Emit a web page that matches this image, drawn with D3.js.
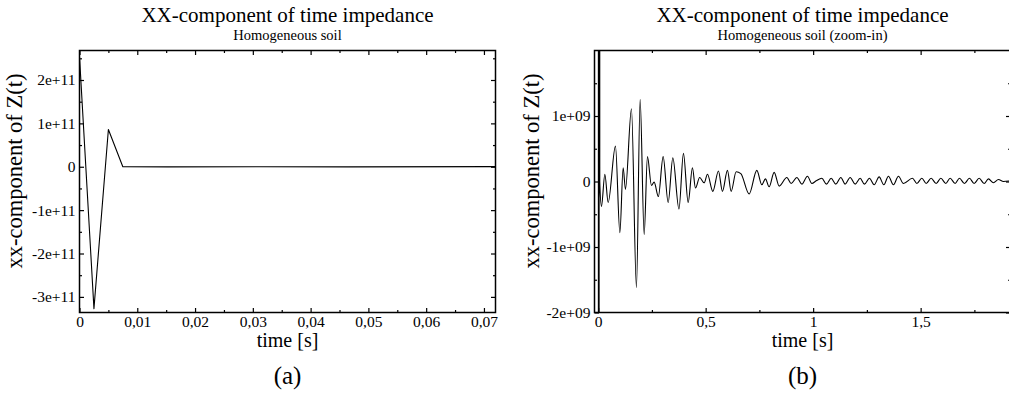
<!DOCTYPE html>
<html>
<head>
<meta charset="utf-8">
<script src="https://cdn.jsdelivr.net/npm/d3@7"></script>
<style>
	body { margin: 0; background: #fff; }
	svg { display: block; }
	.domain { display: none; }
	.tick line { stroke: #000; stroke-width: 1.2; }
</style>
</head>
<body>
<svg id="chart" width="1009" height="394"></svg>
<script>
// impulse at the start of the record (values in Z units)
const impulseTime = [0, 0.0025, 0.005, 0.0075];
const impulseValue = [2.54e11, -3.27e11, 0.86e11, 0];

// oscillating tail (b) peak by peak (values in 1e9)
const waveUnit = 1e9;
const waveTime = [
	0.0153, 0.0312, 0.0465, 0.0805, 0.1010, 0.1163, 0.1270, 0.1549, 0.1781, 0.1953,
	0.2140, 0.2293, 0.2479, 0.2605, 0.2800, 0.3023, 0.3256, 0.3474, 0.3758, 0.3967,
	0.4186, 0.4386, 0.4526, 0.4721, 0.4930, 0.5084, 0.5335, 0.5595, 0.5781, 0.6014,
	0.6186, 0.6419, 0.6637, 0.7023, 0.7381, 0.7614, 0.7781, 0.7953, 0.8186, 0.8419,
	0.8777, 0.8977, 0.9242, 0.9474, 0.9735, 0.9940, 1.0140, 1.0405, 1.0619, 1.0837,
	1.1056, 1.1288, 1.1488, 1.1721, 1.1953, 1.2186, 1.2386, 1.2619, 1.2837, 1.3070,
	1.3288, 1.3502, 1.3735, 1.3967, 1.4200, 1.4619, 1.4823, 1.5056, 1.5256, 1.5488,
	1.5721, 1.5940, 1.6172, 1.6372, 1.6605, 1.6805, 1.7037, 1.7270, 1.7488, 1.7721,
	1.7953, 1.8153, 1.8386, 1.8619, 1.8851, 1.9170
];
const waveValue = [
	-0.38, 0.11, -0.32, 0.54, -0.78, 0.21, -0.12, 1.11, -1.62, 1.25,
	-0.81, 0.38, -0.06, -0.01, -0.23, 0.38, -0.32, 0.36, -0.42, 0.43,
	-0.32, 0.21, -0.10, 0.06, -0.02, 0.11, -0.15, 0.16, -0.15, 0.17,
	-0.15, 0.15, 0.12, -0.19, 0.17, -0.05, 0.04, -0.08, 0.14, -0.07,
	0.06, -0.03, 0.06, -0.04, 0.08, -0.03, 0.01, 0.05, -0.04, 0.05,
	-0.04, 0.06, -0.04, 0.06, -0.04, 0.05, -0.04, 0.05, -0.05, 0.07,
	-0.05, 0.08, -0.05, 0.08, -0.03, 0.05, -0.03, 0.05, -0.03, 0.05,
	-0.03, 0.05, -0.03, 0.05, -0.03, 0.05, -0.03, 0.05, -0.03, 0.05,
	-0.03, 0.04, -0.02, 0.03, 0.00, 0.01
];

// ticks
const xTicksA = [0, 0.01, 0.02, 0.03, 0.04, 0.05, 0.06, 0.07];
const xMinorA = [0.005, 0.015, 0.025, 0.035, 0.045, 0.055, 0.065];
const yTicksA = [-3e11, -2e11, -1e11, 0, 1e11, 2e11];
const yMinorA = [-2.5e11, -1.5e11, -0.5e11, 0.5e11, 1.5e11, 2.5e11];
const xTicksB = [0, 0.5, 1, 1.5];
const xMinorB = [0.25, 0.75, 1.25, 1.75];
const yTicksB = [-2e9, -1e9, 0, 1e9];
const yMinorB = [-1.5e9, -0.5e9, 0.5e9, 1.5e9];

// text
const titleText = 'XX-component of time impedance';
const subtitleA = 'Homogeneous soil';
const subtitleB = 'Homogeneous soil (zoom-in)';
const xLabel = 'time [s]';
const yLabel = 'xx-component of Z(t)';

const FONT = '"Liberation Serif", "Times New Roman", serif';

const series = impulseTime.map((t, i) => ({ t: t, v: impulseValue[i] }))
	.concat(waveTime.map((t, i) => ({ t: t, v: waveValue[i] * waveUnit })));

const svg = d3.select('#chart');

const fmtX = d => d === 0 ? '0' : d3.format('~g')(d).replace('.', ',');
const fmtY = d => {
	if (d === 0) return '0';
	const e = Math.floor(Math.log10(Math.abs(d)) + 1e-9);
	const m = Math.round(d / Math.pow(10, e));
	return m + 'e+' + String(e).padStart(2, '0');
};

function label(g, x, y, size, str) {
	return g.append('text')
		.attr('x', x).attr('y', y)
		.attr('text-anchor', 'middle')
		.style('font-family', FONT)
		.style('font-size', size + 'px')
		.style('fill', '#000')
		.text(str);
}

function panel(cfg) {
	const x = d3.scaleLinear().domain(cfg.xDomain).range([cfg.left, cfg.left + 416]);
	const y = d3.scaleLinear().domain(cfg.yDomain).range([312.5, 50.5]);
	const cx = cfg.left + 208;
	const g = svg.append('g');

	g.append('clipPath').attr('id', cfg.id + '-clip')
		.append('rect')
		.attr('x', cfg.left).attr('y', 50.5)
		.attr('width', 416).attr('height', 262);

	const line = d3.line()
		.x(d => x(d.t))
		.y(d => y(d.v))
		.curve(cfg.curve);

	g.append('path')
		.datum(series)
		.attr('clip-path', 'url(#' + cfg.id + '-clip)')
		.attr('fill', 'none')
		.attr('stroke', '#000')
		.attr('stroke-width', 1.1)
		.attr('stroke-linejoin', 'round')
		.attr('d', line);

	// major / minor ticks on all four sides, pointing inward
	const add = (axis, tf) => g.append('g').attr('transform', tf).call(axis);
	add(d3.axisBottom(x).tickValues(cfg.xTicks).tickSize(-4.5).tickPadding(3).tickFormat(fmtX), 'translate(0,312.5)');
	add(d3.axisBottom(x).tickValues(cfg.xMinor).tickSize(-2.5).tickFormat(''), 'translate(0,312.5)');
	add(d3.axisTop(x).tickValues(cfg.xTicks).tickSize(-4.5).tickFormat(''), 'translate(0,50.5)');
	add(d3.axisTop(x).tickValues(cfg.xMinor).tickSize(-2.5).tickFormat(''), 'translate(0,50.5)');
	add(d3.axisLeft(y).tickValues(cfg.yTicks).tickSize(-4.5).tickPadding(4).tickFormat(fmtY), 'translate(' + cfg.left + ',0)');
	add(d3.axisLeft(y).tickValues(cfg.yMinor).tickSize(-2.5).tickFormat(''), 'translate(' + cfg.left + ',0)');
	add(d3.axisRight(y).tickValues(cfg.yTicks).tickSize(-4.5).tickFormat(''), 'translate(' + (cfg.left + 416) + ',0)');
	add(d3.axisRight(y).tickValues(cfg.yMinor).tickSize(-2.5).tickFormat(''), 'translate(' + (cfg.left + 416) + ',0)');

	g.selectAll('.tick text')
		.style('font-family', FONT)
		.style('font-size', '15.5px')
		.style('fill', '#000');

	g.append('rect')
		.attr('x', cfg.left).attr('y', 50.5)
		.attr('width', 416).attr('height', 262)
		.attr('fill', 'none').attr('stroke', '#000').attr('stroke-width', 1.5);

	label(g, cx, 21.5, 21, titleText);
	label(g, cx, 39.5, 14.5, cfg.subtitle);
	label(g, cx, 346.5, 20, xLabel);
	label(g, 0, 0, 22.5, yLabel)
		.attr('transform', 'translate(' + cfg.yLabelX + ',171) rotate(-90)');
	label(g, cx, 384, 25, cfg.tag);
}

panel({
	id: 'a', left: 79.5, subtitle: subtitleA, tag: '(a)', yLabelX: 21.5,
	xDomain: [0, 0.072], yDomain: [-3.36e11, 2.68e11],
	xTicks: xTicksA, xMinor: xMinorA, yTicks: yTicksA, yMinor: yMinorA,
	curve: d3.curveLinear
});

panel({
	id: 'b', left: 594.5, subtitle: subtitleB, tag: '(b)', yLabelX: 539,
	xDomain: [-0.017, 1.918], yDomain: [-2e9, 2e9],
	xTicks: xTicksB, xMinor: xMinorB, yTicks: yTicksB, yMinor: yMinorB,
	curve: d3.curveMonotoneX
});
</script>
</body>
</html>
